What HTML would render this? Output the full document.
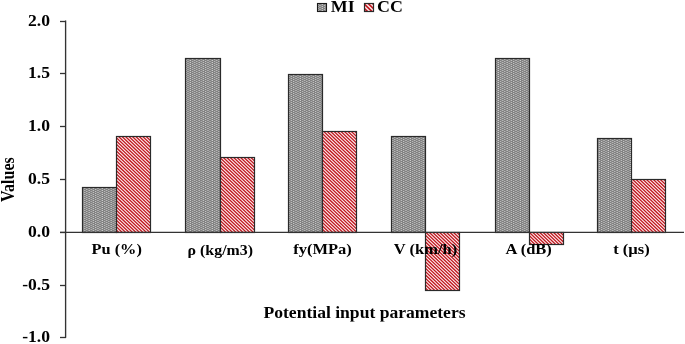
<!DOCTYPE html>
<html><head><meta charset="utf-8"><style>
html,body{margin:0;padding:0;background:#fff;width:685px;height:344px;overflow:hidden}
svg{display:block}
text{font-family:"Liberation Serif", serif;font-weight:bold;fill:#000}
.t{will-change:transform}
</style></head><body>
<svg width="685" height="344" viewBox="0 0 685 344">
<defs>
<pattern id="dots" patternUnits="userSpaceOnUse" width="4.4" height="2">
<rect width="4.4" height="2" fill="#808080"/>
<circle cx="1.1" cy="0.5" r="0.62" fill="#dadada"/>
<circle cx="3.3" cy="1.5" r="0.62" fill="#dadada"/>
</pattern>

<clipPath id="c0"><rect x="116.50" y="136.50" width="34.00" height="96.00"/></clipPath>
<clipPath id="c1"><rect x="220.50" y="157.50" width="34.00" height="75.00"/></clipPath>
<clipPath id="c2"><rect x="322.50" y="131.50" width="34.00" height="101.00"/></clipPath>
<clipPath id="c3"><rect x="425.50" y="232.50" width="34.00" height="58.00"/></clipPath>
<clipPath id="c4"><rect x="529.50" y="232.50" width="34.00" height="12.00"/></clipPath>
<clipPath id="c5"><rect x="631.50" y="179.50" width="34.00" height="53.00"/></clipPath>
<clipPath id="c99"><rect x="364.50" y="3.50" width="9.00" height="8.00"/></clipPath>
</defs><rect width="685" height="344" fill="#fff"/>
<rect x="82.5" y="187.5" width="34.0" height="45.0" fill="url(#dots)" stroke="#2a2a2a" stroke-width="1.2"/>
<rect x="116.50" y="136.50" width="34.00" height="96.00" fill="#fdeeee"/>
<path clip-path="url(#c0)" d="M6.06 134.50L110.61 234.50M9.51 134.50L114.06 234.50M12.96 134.50L117.51 234.50M16.41 134.50L120.96 234.50M19.86 134.50L124.41 234.50M23.31 134.50L127.86 234.50M26.76 134.50L131.31 234.50M30.21 134.50L134.76 234.50M33.66 134.50L138.21 234.50M37.11 134.50L141.66 234.50M40.56 134.50L145.11 234.50M44.01 134.50L148.56 234.50M47.46 134.50L152.01 234.50M50.91 134.50L155.46 234.50M54.36 134.50L158.91 234.50M57.81 134.50L162.36 234.50M61.26 134.50L165.81 234.50M64.71 134.50L169.26 234.50M68.16 134.50L172.71 234.50M71.61 134.50L176.16 234.50M75.06 134.50L179.61 234.50M78.51 134.50L183.06 234.50M81.96 134.50L186.51 234.50M85.41 134.50L189.96 234.50M88.86 134.50L193.41 234.50M92.31 134.50L196.86 234.50M95.76 134.50L200.31 234.50M99.21 134.50L203.76 234.50M102.66 134.50L207.21 234.50M106.11 134.50L210.66 234.50M109.56 134.50L214.11 234.50M113.01 134.50L217.56 234.50M116.46 134.50L221.01 234.50M119.91 134.50L224.46 234.50M123.36 134.50L227.91 234.50M126.81 134.50L231.36 234.50M130.26 134.50L234.81 234.50M133.71 134.50L238.26 234.50M137.16 134.50L241.71 234.50M140.61 134.50L245.16 234.50M144.06 134.50L248.61 234.50M147.51 134.50L252.06 234.50M150.96 134.50L255.51 234.50M154.41 134.50L258.96 234.50" stroke="#c01820" stroke-width="1.3" fill="none"/>
<rect x="116.50" y="136.50" width="34.00" height="96.00" fill="none" stroke="#2a2a2a" stroke-width="1.2"/>
<rect x="185.5" y="58.5" width="35.0" height="174.0" fill="url(#dots)" stroke="#2a2a2a" stroke-width="1.2"/>
<rect x="220.50" y="157.50" width="34.00" height="75.00" fill="#fdeeee"/>
<path clip-path="url(#c1)" d="M131.52 155.50L214.11 234.50M134.97 155.50L217.56 234.50M138.42 155.50L221.01 234.50M141.87 155.50L224.46 234.50M145.32 155.50L227.91 234.50M148.77 155.50L231.36 234.50M152.22 155.50L234.81 234.50M155.67 155.50L238.26 234.50M159.12 155.50L241.71 234.50M162.57 155.50L245.16 234.50M166.02 155.50L248.61 234.50M169.47 155.50L252.06 234.50M172.92 155.50L255.51 234.50M176.37 155.50L258.96 234.50M179.82 155.50L262.41 234.50M183.27 155.50L265.86 234.50M186.72 155.50L269.31 234.50M190.17 155.50L272.76 234.50M193.62 155.50L276.21 234.50M197.07 155.50L279.66 234.50M200.52 155.50L283.11 234.50M203.97 155.50L286.56 234.50M207.42 155.50L290.01 234.50M210.87 155.50L293.46 234.50M214.32 155.50L296.91 234.50M217.77 155.50L300.36 234.50M221.22 155.50L303.81 234.50M224.67 155.50L307.26 234.50M228.12 155.50L310.71 234.50M231.57 155.50L314.16 234.50M235.02 155.50L317.61 234.50M238.47 155.50L321.06 234.50M241.92 155.50L324.51 234.50M245.37 155.50L327.96 234.50M248.82 155.50L331.41 234.50M252.27 155.50L334.86 234.50M255.72 155.50L338.31 234.50M259.17 155.50L341.76 234.50" stroke="#c01820" stroke-width="1.3" fill="none"/>
<rect x="220.50" y="157.50" width="34.00" height="75.00" fill="none" stroke="#2a2a2a" stroke-width="1.2"/>
<rect x="288.5" y="74.5" width="34.0" height="158.0" fill="url(#dots)" stroke="#2a2a2a" stroke-width="1.2"/>
<rect x="322.50" y="131.50" width="34.00" height="101.00" fill="#fdeeee"/>
<path clip-path="url(#c2)" d="M207.84 129.50L317.61 234.50M211.29 129.50L321.06 234.50M214.74 129.50L324.51 234.50M218.19 129.50L327.96 234.50M221.64 129.50L331.41 234.50M225.09 129.50L334.86 234.50M228.54 129.50L338.31 234.50M231.99 129.50L341.76 234.50M235.44 129.50L345.21 234.50M238.89 129.50L348.66 234.50M242.34 129.50L352.11 234.50M245.79 129.50L355.56 234.50M249.24 129.50L359.01 234.50M252.69 129.50L362.46 234.50M256.14 129.50L365.91 234.50M259.59 129.50L369.36 234.50M263.04 129.50L372.81 234.50M266.49 129.50L376.26 234.50M269.94 129.50L379.71 234.50M273.39 129.50L383.16 234.50M276.84 129.50L386.61 234.50M280.29 129.50L390.06 234.50M283.74 129.50L393.51 234.50M287.19 129.50L396.96 234.50M290.64 129.50L400.41 234.50M294.09 129.50L403.86 234.50M297.54 129.50L407.31 234.50M300.99 129.50L410.76 234.50M304.44 129.50L414.21 234.50M307.89 129.50L417.66 234.50M311.34 129.50L421.11 234.50M314.79 129.50L424.56 234.50M318.24 129.50L428.01 234.50M321.69 129.50L431.46 234.50M325.14 129.50L434.91 234.50M328.59 129.50L438.36 234.50M332.04 129.50L441.81 234.50M335.49 129.50L445.26 234.50M338.94 129.50L448.71 234.50M342.39 129.50L452.16 234.50M345.84 129.50L455.61 234.50M349.29 129.50L459.06 234.50M352.74 129.50L462.51 234.50M356.19 129.50L465.96 234.50M359.64 129.50L469.41 234.50M363.09 129.50L472.86 234.50" stroke="#c01820" stroke-width="1.3" fill="none"/>
<rect x="322.50" y="131.50" width="34.00" height="101.00" fill="none" stroke="#2a2a2a" stroke-width="1.2"/>
<rect x="391.5" y="136.5" width="34.0" height="96.0" fill="url(#dots)" stroke="#2a2a2a" stroke-width="1.2"/>
<rect x="425.50" y="232.50" width="34.00" height="58.00" fill="#fdeeee"/>
<path clip-path="url(#c3)" d="M354.83 230.50L419.65 292.50M358.28 230.50L423.10 292.50M361.73 230.50L426.55 292.50M365.18 230.50L430.00 292.50M368.63 230.50L433.45 292.50M372.08 230.50L436.90 292.50M375.53 230.50L440.35 292.50M378.98 230.50L443.80 292.50M382.43 230.50L447.25 292.50M385.88 230.50L450.70 292.50M389.33 230.50L454.15 292.50M392.78 230.50L457.60 292.50M396.23 230.50L461.05 292.50M399.68 230.50L464.50 292.50M403.13 230.50L467.95 292.50M406.58 230.50L471.40 292.50M410.03 230.50L474.85 292.50M413.48 230.50L478.30 292.50M416.93 230.50L481.75 292.50M420.38 230.50L485.20 292.50M423.83 230.50L488.65 292.50M427.28 230.50L492.10 292.50M430.73 230.50L495.55 292.50M434.18 230.50L499.00 292.50M437.63 230.50L502.45 292.50M441.08 230.50L505.90 292.50M444.53 230.50L509.35 292.50M447.98 230.50L512.80 292.50M451.43 230.50L516.25 292.50M454.88 230.50L519.70 292.50M458.33 230.50L523.15 292.50M461.78 230.50L526.60 292.50M465.23 230.50L530.05 292.50" stroke="#c01820" stroke-width="1.3" fill="none"/>
<rect x="425.50" y="232.50" width="34.00" height="58.00" fill="none" stroke="#2a2a2a" stroke-width="1.2"/>
<rect x="495.5" y="58.5" width="34.0" height="174.0" fill="url(#dots)" stroke="#2a2a2a" stroke-width="1.2"/>
<rect x="529.50" y="232.50" width="34.00" height="12.00" fill="#fdeeee"/>
<path clip-path="url(#c4)" d="M506.63 230.50L523.35 246.50M510.08 230.50L526.80 246.50M513.53 230.50L530.25 246.50M516.98 230.50L533.70 246.50M520.43 230.50L537.15 246.50M523.88 230.50L540.60 246.50M527.33 230.50L544.05 246.50M530.78 230.50L547.50 246.50M534.23 230.50L550.95 246.50M537.68 230.50L554.40 246.50M541.13 230.50L557.85 246.50M544.58 230.50L561.30 246.50M548.03 230.50L564.75 246.50M551.48 230.50L568.20 246.50M554.93 230.50L571.65 246.50M558.38 230.50L575.10 246.50M561.83 230.50L578.55 246.50M565.28 230.50L582.00 246.50M568.73 230.50L585.45 246.50" stroke="#c01820" stroke-width="1.3" fill="none"/>
<rect x="529.50" y="232.50" width="34.00" height="12.00" fill="none" stroke="#2a2a2a" stroke-width="1.2"/>
<rect x="597.5" y="138.5" width="34.0" height="94.0" fill="url(#dots)" stroke="#2a2a2a" stroke-width="1.2"/>
<rect x="631.50" y="179.50" width="34.00" height="53.00" fill="#fdeeee"/>
<path clip-path="url(#c5)" d="M565.07 177.50L624.66 234.50M568.52 177.50L628.11 234.50M571.97 177.50L631.56 234.50M575.42 177.50L635.01 234.50M578.87 177.50L638.46 234.50M582.32 177.50L641.91 234.50M585.77 177.50L645.36 234.50M589.22 177.50L648.81 234.50M592.67 177.50L652.26 234.50M596.12 177.50L655.71 234.50M599.57 177.50L659.16 234.50M603.02 177.50L662.61 234.50M606.47 177.50L666.06 234.50M609.92 177.50L669.51 234.50M613.37 177.50L672.96 234.50M616.82 177.50L676.41 234.50M620.27 177.50L679.86 234.50M623.72 177.50L683.31 234.50M627.17 177.50L686.76 234.50M630.62 177.50L690.21 234.50M634.07 177.50L693.66 234.50M637.52 177.50L697.11 234.50M640.97 177.50L700.56 234.50M644.42 177.50L704.01 234.50M647.87 177.50L707.46 234.50M651.32 177.50L710.91 234.50M654.77 177.50L714.36 234.50M658.22 177.50L717.81 234.50M661.67 177.50L721.26 234.50M665.12 177.50L724.71 234.50M668.57 177.50L728.16 234.50M672.02 177.50L731.61 234.50" stroke="#c01820" stroke-width="1.3" fill="none"/>
<rect x="631.50" y="179.50" width="34.00" height="53.00" fill="none" stroke="#2a2a2a" stroke-width="1.2"/>
<rect x="364.50" y="3.50" width="9.00" height="8.00" fill="#fdeeee"/>
<path clip-path="url(#c99)" d="M343.57 1.50L356.13 13.50M348.07 1.50L360.63 13.50M352.57 1.50L365.13 13.50M357.07 1.50L369.63 13.50M361.57 1.50L374.13 13.50M366.07 1.50L378.63 13.50M370.57 1.50L383.13 13.50M375.07 1.50L387.63 13.50M379.57 1.50L392.13 13.50" stroke="#c01820" stroke-width="1.7" fill="none"/>
<rect x="364.50" y="3.50" width="9.00" height="8.00" fill="none" stroke="#2a2a2a" stroke-width="1.2"/>
<line x1="65.6" y1="20.5" x2="65.6" y2="337.8" stroke="#333" stroke-width="1.35"/>
<line x1="60" y1="21.5" x2="66" y2="21.5" stroke="#333" stroke-width="1.3"/>
<line x1="60" y1="73.5" x2="66" y2="73.5" stroke="#333" stroke-width="1.3"/>
<line x1="60" y1="126.5" x2="66" y2="126.5" stroke="#333" stroke-width="1.3"/>
<line x1="60" y1="179.5" x2="66" y2="179.5" stroke="#333" stroke-width="1.3"/>
<line x1="60" y1="232.5" x2="66" y2="232.5" stroke="#333" stroke-width="1.3"/>
<line x1="60" y1="285.5" x2="66" y2="285.5" stroke="#333" stroke-width="1.3"/>
<line x1="60" y1="337.5" x2="66" y2="337.5" stroke="#333" stroke-width="1.3"/>
<line x1="60" y1="232.4" x2="684" y2="232.4" stroke="#333" stroke-width="1.35"/>
<g class="t" opacity="0.999">
<text transform="translate(50,25.90) scale(1.1,1)" font-size="16" text-anchor="end">2.0</text>
<text transform="translate(50,77.90) scale(1.1,1)" font-size="16" text-anchor="end">1.5</text>
<text transform="translate(50,130.90) scale(1.1,1)" font-size="16" text-anchor="end">1.0</text>
<text transform="translate(50,183.90) scale(1.1,1)" font-size="16" text-anchor="end">0.5</text>
<text transform="translate(50,236.90) scale(1.1,1)" font-size="16" text-anchor="end">0.0</text>
<text transform="translate(50,289.90) scale(1.1,1)" font-size="16" text-anchor="end">-0.5</text>
<text transform="translate(50,341.90) scale(1.1,1)" font-size="16" text-anchor="end">-1.0</text>
<text transform="translate(116.70,253.60) scale(1.09,1)" font-size="15" text-anchor="middle">Pu (%)</text>
<text transform="translate(220.30,255.20) scale(1.06,1)" font-size="15" text-anchor="middle">ρ (kg/m3)</text>
<text transform="translate(322.50,253.60) scale(1.1,1)" font-size="15" text-anchor="middle">fy(MPa)</text>
<text transform="translate(425.50,254.00) scale(1.1,1)" font-size="15" text-anchor="middle">V (km/h)</text>
<text transform="translate(528.70,253.60) scale(1.1,1)" font-size="15" text-anchor="middle">A (dB)</text>
<text transform="translate(631.50,253.60) scale(1.1,1)" font-size="15" text-anchor="middle">t (µs)</text>
<text transform="translate(364.5,317.5) scale(1.1,1)" font-size="16" text-anchor="middle">Potential input parameters</text>
<text transform="translate(14.2,179.6) scale(1.15,1) rotate(-90)" font-size="16" text-anchor="middle">Values</text>
<text transform="translate(330.8,11.7) scale(1.12,1)" font-size="16">MI</text>
<text transform="translate(377.0,11.7) scale(1.12,1)" font-size="16">CC</text>
</g>
<rect x="317.5" y="3.5" width="9" height="8" fill="url(#dots)" stroke="#1a1a1a" stroke-width="1.1"/>
</svg></body></html>
